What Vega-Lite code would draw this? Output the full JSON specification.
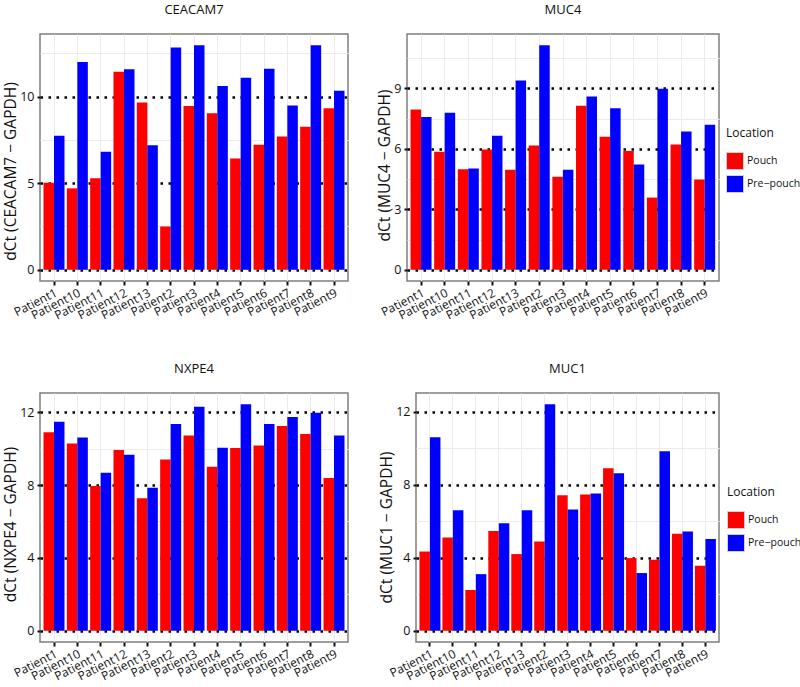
{
  "$schema": "https://vega.github.io/schema/vega-lite/v6.json",
  "padding": {"left": 2, "top": 3, "right": 0, "bottom": 0},
  "background": "white",
  "datasets": {
    "d": [
      {"gene":"CEACAM7","patient":"Patient1","location":"Pouch","dct":5.03},
      {"gene":"CEACAM7","patient":"Patient1","location":"Pre−pouch","dct":7.74},
      {"gene":"CEACAM7","patient":"Patient10","location":"Pouch","dct":4.70},
      {"gene":"CEACAM7","patient":"Patient10","location":"Pre−pouch","dct":11.99},
      {"gene":"CEACAM7","patient":"Patient11","location":"Pouch","dct":5.28},
      {"gene":"CEACAM7","patient":"Patient11","location":"Pre−pouch","dct":6.81},
      {"gene":"CEACAM7","patient":"Patient12","location":"Pouch","dct":11.43},
      {"gene":"CEACAM7","patient":"Patient12","location":"Pre−pouch","dct":11.57},
      {"gene":"CEACAM7","patient":"Patient13","location":"Pouch","dct":9.66},
      {"gene":"CEACAM7","patient":"Patient13","location":"Pre−pouch","dct":7.19},
      {"gene":"CEACAM7","patient":"Patient2","location":"Pouch","dct":2.50},
      {"gene":"CEACAM7","patient":"Patient2","location":"Pre−pouch","dct":12.83},
      {"gene":"CEACAM7","patient":"Patient3","location":"Pouch","dct":9.46},
      {"gene":"CEACAM7","patient":"Patient3","location":"Pre−pouch","dct":12.96},
      {"gene":"CEACAM7","patient":"Patient4","location":"Pouch","dct":9.04},
      {"gene":"CEACAM7","patient":"Patient4","location":"Pre−pouch","dct":10.61},
      {"gene":"CEACAM7","patient":"Patient5","location":"Pouch","dct":6.42},
      {"gene":"CEACAM7","patient":"Patient5","location":"Pre−pouch","dct":11.09},
      {"gene":"CEACAM7","patient":"Patient6","location":"Pouch","dct":7.21},
      {"gene":"CEACAM7","patient":"Patient6","location":"Pre−pouch","dct":11.61},
      {"gene":"CEACAM7","patient":"Patient7","location":"Pouch","dct":7.69},
      {"gene":"CEACAM7","patient":"Patient7","location":"Pre−pouch","dct":9.48},
      {"gene":"CEACAM7","patient":"Patient8","location":"Pouch","dct":8.26},
      {"gene":"CEACAM7","patient":"Patient8","location":"Pre−pouch","dct":12.96},
      {"gene":"CEACAM7","patient":"Patient9","location":"Pouch","dct":9.33},
      {"gene":"CEACAM7","patient":"Patient9","location":"Pre−pouch","dct":10.34},

      {"gene":"MUC4","patient":"Patient1","location":"Pouch","dct":7.95},
      {"gene":"MUC4","patient":"Patient1","location":"Pre−pouch","dct":7.57},
      {"gene":"MUC4","patient":"Patient10","location":"Pouch","dct":5.85},
      {"gene":"MUC4","patient":"Patient10","location":"Pre−pouch","dct":7.78},
      {"gene":"MUC4","patient":"Patient11","location":"Pouch","dct":4.99},
      {"gene":"MUC4","patient":"Patient11","location":"Pre−pouch","dct":5.02},
      {"gene":"MUC4","patient":"Patient12","location":"Pouch","dct":5.96},
      {"gene":"MUC4","patient":"Patient12","location":"Pre−pouch","dct":6.65},
      {"gene":"MUC4","patient":"Patient13","location":"Pouch","dct":4.96},
      {"gene":"MUC4","patient":"Patient13","location":"Pre−pouch","dct":9.39},
      {"gene":"MUC4","patient":"Patient2","location":"Pouch","dct":6.16},
      {"gene":"MUC4","patient":"Patient2","location":"Pre−pouch","dct":11.13},
      {"gene":"MUC4","patient":"Patient3","location":"Pouch","dct":4.61},
      {"gene":"MUC4","patient":"Patient3","location":"Pre−pouch","dct":4.96},
      {"gene":"MUC4","patient":"Patient4","location":"Pouch","dct":8.13},
      {"gene":"MUC4","patient":"Patient4","location":"Pre−pouch","dct":8.59},
      {"gene":"MUC4","patient":"Patient5","location":"Pouch","dct":6.60},
      {"gene":"MUC4","patient":"Patient5","location":"Pre−pouch","dct":8.01},
      {"gene":"MUC4","patient":"Patient6","location":"Pouch","dct":5.89},
      {"gene":"MUC4","patient":"Patient6","location":"Pre−pouch","dct":5.22},
      {"gene":"MUC4","patient":"Patient7","location":"Pouch","dct":3.58},
      {"gene":"MUC4","patient":"Patient7","location":"Pre−pouch","dct":8.97},
      {"gene":"MUC4","patient":"Patient8","location":"Pouch","dct":6.21},
      {"gene":"MUC4","patient":"Patient8","location":"Pre−pouch","dct":6.85},
      {"gene":"MUC4","patient":"Patient9","location":"Pouch","dct":4.47},
      {"gene":"MUC4","patient":"Patient9","location":"Pre−pouch","dct":7.19},

      {"gene":"NXPE4","patient":"Patient1","location":"Pouch","dct":10.90},
      {"gene":"NXPE4","patient":"Patient1","location":"Pre−pouch","dct":11.48},
      {"gene":"NXPE4","patient":"Patient10","location":"Pouch","dct":10.29},
      {"gene":"NXPE4","patient":"Patient10","location":"Pre−pouch","dct":10.62},
      {"gene":"NXPE4","patient":"Patient11","location":"Pouch","dct":7.95},
      {"gene":"NXPE4","patient":"Patient11","location":"Pre−pouch","dct":8.68},
      {"gene":"NXPE4","patient":"Patient12","location":"Pouch","dct":9.93},
      {"gene":"NXPE4","patient":"Patient12","location":"Pre−pouch","dct":9.67},
      {"gene":"NXPE4","patient":"Patient13","location":"Pouch","dct":7.27},
      {"gene":"NXPE4","patient":"Patient13","location":"Pre−pouch","dct":7.86},
      {"gene":"NXPE4","patient":"Patient2","location":"Pouch","dct":9.40},
      {"gene":"NXPE4","patient":"Patient2","location":"Pre−pouch","dct":11.36},
      {"gene":"NXPE4","patient":"Patient3","location":"Pouch","dct":10.73},
      {"gene":"NXPE4","patient":"Patient3","location":"Pre−pouch","dct":12.31},
      {"gene":"NXPE4","patient":"Patient4","location":"Pouch","dct":9.01},
      {"gene":"NXPE4","patient":"Patient4","location":"Pre−pouch","dct":10.05},
      {"gene":"NXPE4","patient":"Patient5","location":"Pouch","dct":10.04},
      {"gene":"NXPE4","patient":"Patient5","location":"Pre−pouch","dct":12.44},
      {"gene":"NXPE4","patient":"Patient6","location":"Pouch","dct":10.18},
      {"gene":"NXPE4","patient":"Patient6","location":"Pre−pouch","dct":11.36},
      {"gene":"NXPE4","patient":"Patient7","location":"Pouch","dct":11.25},
      {"gene":"NXPE4","patient":"Patient7","location":"Pre−pouch","dct":11.74},
      {"gene":"NXPE4","patient":"Patient8","location":"Pouch","dct":10.81},
      {"gene":"NXPE4","patient":"Patient8","location":"Pre−pouch","dct":11.98},
      {"gene":"NXPE4","patient":"Patient9","location":"Pouch","dct":8.39},
      {"gene":"NXPE4","patient":"Patient9","location":"Pre−pouch","dct":10.73},

      {"gene":"MUC1","patient":"Patient1","location":"Pouch","dct":4.34},
      {"gene":"MUC1","patient":"Patient1","location":"Pre−pouch","dct":10.60},
      {"gene":"MUC1","patient":"Patient10","location":"Pouch","dct":5.11},
      {"gene":"MUC1","patient":"Patient10","location":"Pre−pouch","dct":6.60},
      {"gene":"MUC1","patient":"Patient11","location":"Pouch","dct":2.23},
      {"gene":"MUC1","patient":"Patient11","location":"Pre−pouch","dct":3.10},
      {"gene":"MUC1","patient":"Patient12","location":"Pouch","dct":5.47},
      {"gene":"MUC1","patient":"Patient12","location":"Pre−pouch","dct":5.89},
      {"gene":"MUC1","patient":"Patient13","location":"Pouch","dct":4.20},
      {"gene":"MUC1","patient":"Patient13","location":"Pre−pouch","dct":6.60},
      {"gene":"MUC1","patient":"Patient2","location":"Pouch","dct":4.89},
      {"gene":"MUC1","patient":"Patient2","location":"Pre−pouch","dct":12.41},
      {"gene":"MUC1","patient":"Patient3","location":"Pouch","dct":7.43},
      {"gene":"MUC1","patient":"Patient3","location":"Pre−pouch","dct":6.64},
      {"gene":"MUC1","patient":"Patient4","location":"Pouch","dct":7.46},
      {"gene":"MUC1","patient":"Patient4","location":"Pre−pouch","dct":7.52},
      {"gene":"MUC1","patient":"Patient5","location":"Pouch","dct":8.91},
      {"gene":"MUC1","patient":"Patient5","location":"Pre−pouch","dct":8.63},
      {"gene":"MUC1","patient":"Patient6","location":"Pouch","dct":3.98},
      {"gene":"MUC1","patient":"Patient6","location":"Pre−pouch","dct":3.16},
      {"gene":"MUC1","patient":"Patient7","location":"Pouch","dct":3.89},
      {"gene":"MUC1","patient":"Patient7","location":"Pre−pouch","dct":9.84},
      {"gene":"MUC1","patient":"Patient8","location":"Pouch","dct":5.31},
      {"gene":"MUC1","patient":"Patient8","location":"Pre−pouch","dct":5.44},
      {"gene":"MUC1","patient":"Patient9","location":"Pouch","dct":3.56},
      {"gene":"MUC1","patient":"Patient9","location":"Pre−pouch","dct":5.02}
    ]
  },
  "config": {
    "font": "Open Sans",
    "view": {"stroke": "#7f7f7f", "strokeWidth": 1.5},
    "axis": {
      "domain": false,
      "labelColor": "#111111",
      "labelFontSize": 12.5,
      "titleFontSize": 15.5,
      "titleFontWeight": "normal",
      "titleColor": "#111111",
      "tickColor": "#111111",
      "tickSize": 3,
      "tickWidth": 2,
      "labelPadding": 3,
      "titlePadding": 1
    },
    "axisX": {"labelAngle": -27, "labelFontSize": 12, "labelAlign": "right", "labelBaseline": "top", "labelPadding": 2, "tickSize": 4},
    "title": {"fontSize": 13, "fontWeight": "normal", "color": "#111111", "frame": "group", "offset": 17},
    "legend": {
      "titleFontSize": 12, "titleFontWeight": "normal", "titleColor": "#111111",
      "labelFontSize": 10.5, "labelColor": "#111111",
      "symbolType": "square", "symbolSize": 289, "symbolStrokeColor": "#d0d0d0", "symbolStrokeWidth": 1,
      "symbolOpacity": 1, "rowPadding": 1, "titlePadding": 12, "labelOffset": 3
    }
  },
  "resolve": {"scale": {"color": "independent"}},
  "spacing": 40,
  "vconcat": [
    {
      "spacing": 28,
      "resolve": {"scale": {"color": "independent"}},
      "hconcat": [
        {
          "width": 308, "height": 247,
          "title": "CEACAM7",
          "data": {"name": "d"},
          "transform": [{"filter": "datum.gene === 'CEACAM7'"}],
          "mark": {"type": "bar"},
          "encoding": {
            "x": {"field": "patient", "type": "nominal", "sort": null, "title": null,
                  "scale": {"paddingInner": 0.1, "paddingOuter": 0.15},
                  "axis": {"grid": true, "gridColor": "#ebebeb", "gridWidth": 1, "bandPosition": 0.5}},
            "xOffset": {"field": "location", "type": "nominal", "scale": {"paddingInner": 0, "paddingOuter": 0}},
            "y": {"field": "dct", "type": "quantitative", "title": "dCt (CEACAM7 − GAPDH)",
                  "scale": {"domain": [-0.648, 13.61], "nice": false, "zero": false},
                  "axis": {"values": [0, 2.5, 5, 7.5, 10, 12.5], "grid": true, "titleY": 137,
                           "labelExpr": "datum.value % 5 === 0 ? datum.label : ''",
                           "tickColor": {"condition": {"test": "datum.value % 5 === 0", "value": "#111111"}, "value": "transparent"},
                           "gridColor": {"condition": {"test": "datum.value % 5 === 0", "value": "#000000"}, "value": "#ebebeb"},
                           "gridDash": {"condition": {"test": "datum.value % 5 === 0", "value": [2.5, 5.5]}, "value": []},
                           "gridWidth": {"condition": {"test": "datum.value % 5 === 0", "value": 2.5}, "value": 1}}},
            "color": {"field": "location", "type": "nominal", "scale": {"domain": ["Pouch", "Pre−pouch"], "range": ["#ff0000", "#0000ff"]}, "legend": null}
          }
        },
        {
          "width": 312, "height": 247,
          "title": "MUC4",
          "data": {"name": "d"},
          "transform": [{"filter": "datum.gene === 'MUC4'"}],
          "mark": {"type": "bar"},
          "encoding": {
            "x": {"field": "patient", "type": "nominal", "sort": null, "title": null,
                  "scale": {"paddingInner": 0.1, "paddingOuter": 0.15},
                  "axis": {"grid": true, "gridColor": "#ebebeb", "gridWidth": 1, "bandPosition": 0.5}},
            "xOffset": {"field": "location", "type": "nominal", "scale": {"paddingInner": 0, "paddingOuter": 0}},
            "y": {"field": "dct", "type": "quantitative", "title": "dCt (MUC4 − GAPDH)",
                  "scale": {"domain": [-0.557, 11.69], "nice": false, "zero": false},
                  "axis": {"values": [0, 1.5, 3, 4.5, 6, 7.5, 9, 10.5], "grid": true, "titleY": 131,
                           "labelExpr": "datum.value % 3 === 0 ? datum.label : ''",
                           "tickColor": {"condition": {"test": "datum.value % 3 === 0", "value": "#111111"}, "value": "transparent"},
                           "gridColor": {"condition": {"test": "datum.value % 3 === 0", "value": "#000000"}, "value": "#ebebeb"},
                           "gridDash": {"condition": {"test": "datum.value % 3 === 0", "value": [2.5, 5.5]}, "value": []},
                           "gridWidth": {"condition": {"test": "datum.value % 3 === 0", "value": 2.5}, "value": 1}}},
            "color": {"field": "location", "type": "nominal", "scale": {"domain": ["Pouch", "Pre−pouch"], "range": ["#ff0000", "#0000ff"]},
                      "legend": {"title": "Location", "orient": "none", "legendX": 319, "legendY": 94}}
          }
        }
      ]
    },
    {
      "spacing": 29,
      "resolve": {"scale": {"color": "independent"}},
      "hconcat": [
        {
          "width": 308, "height": 249,
          "title": "NXPE4",
          "data": {"name": "d"},
          "transform": [{"filter": "datum.gene === 'NXPE4'"}],
          "mark": {"type": "bar"},
          "encoding": {
            "x": {"field": "patient", "type": "nominal", "sort": null, "title": null,
                  "scale": {"paddingInner": 0.1, "paddingOuter": 0.15},
                  "axis": {"grid": true, "gridColor": "#ebebeb", "gridWidth": 1, "bandPosition": 0.5}},
            "xOffset": {"field": "location", "type": "nominal", "scale": {"paddingInner": 0, "paddingOuter": 0}},
            "y": {"field": "dct", "type": "quantitative", "title": "dCt (NXPE4 − GAPDH)",
                  "scale": {"domain": [-0.622, 13.06], "nice": false, "zero": false},
                  "axis": {"values": [0, 2, 4, 6, 8, 10, 12], "grid": true, "titleY": 131,
                           "labelExpr": "datum.value % 4 === 0 ? datum.label : ''",
                           "tickColor": {"condition": {"test": "datum.value % 4 === 0", "value": "#111111"}, "value": "transparent"},
                           "gridColor": {"condition": {"test": "datum.value % 4 === 0", "value": "#000000"}, "value": "#ebebeb"},
                           "gridDash": {"condition": {"test": "datum.value % 4 === 0", "value": [2.5, 5.5]}, "value": []},
                           "gridWidth": {"condition": {"test": "datum.value % 4 === 0", "value": 2.5}, "value": 1}}},
            "color": {"field": "location", "type": "nominal", "scale": {"domain": ["Pouch", "Pre−pouch"], "range": ["#ff0000", "#0000ff"]}, "legend": null}
          }
        },
        {
          "width": 303, "height": 249,
          "title": "MUC1",
          "data": {"name": "d"},
          "transform": [{"filter": "datum.gene === 'MUC1'"}],
          "mark": {"type": "bar"},
          "encoding": {
            "x": {"field": "patient", "type": "nominal", "sort": null, "title": null,
                  "scale": {"paddingInner": 0.1, "paddingOuter": 0.15},
                  "axis": {"grid": true, "gridColor": "#ebebeb", "gridWidth": 1, "bandPosition": 0.5}},
            "xOffset": {"field": "location", "type": "nominal", "scale": {"paddingInner": 0, "paddingOuter": 0}},
            "y": {"field": "dct", "type": "quantitative", "title": "dCt (MUC1 − GAPDH)",
                  "scale": {"domain": [-0.62, 13.03], "nice": false, "zero": false},
                  "axis": {"values": [0, 2, 4, 6, 8, 10, 12], "grid": true, "titleY": 134,
                           "labelExpr": "datum.value % 4 === 0 ? datum.label : ''",
                           "tickColor": {"condition": {"test": "datum.value % 4 === 0", "value": "#111111"}, "value": "transparent"},
                           "gridColor": {"condition": {"test": "datum.value % 4 === 0", "value": "#000000"}, "value": "#ebebeb"},
                           "gridDash": {"condition": {"test": "datum.value % 4 === 0", "value": [2.5, 5.5]}, "value": []},
                           "gridWidth": {"condition": {"test": "datum.value % 4 === 0", "value": 2.5}, "value": 1}}},
            "color": {"field": "location", "type": "nominal", "scale": {"domain": ["Pouch", "Pre−pouch"], "range": ["#ff0000", "#0000ff"]},
                      "legend": {"title": "Location", "orient": "none", "legendX": 311, "legendY": 94}}
          }
        }
      ]
    }
  ]
}
